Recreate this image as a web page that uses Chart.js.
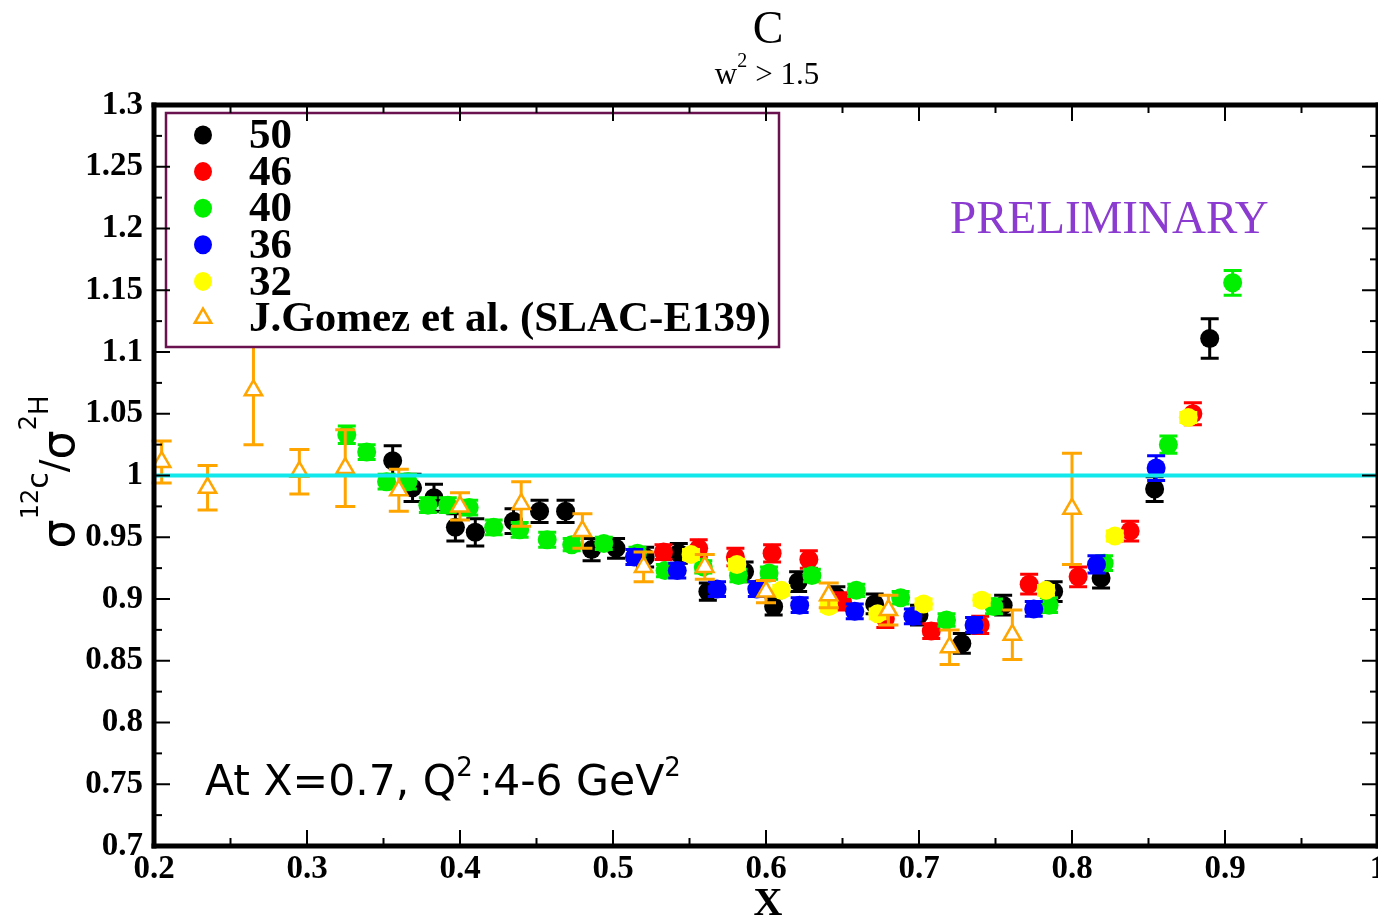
<!DOCTYPE html>
<html>
<head>
<meta charset="utf-8">
<title>C / H cross section ratio</title>
<script src="https://cdn.jsdelivr.net/npm/chart.js@4.4.1/dist/chart.umd.min.js"></script>
<style>
  html, body { margin: 0; padding: 0; background: #ffffff; overflow: hidden; }
  canvas { display: block; }
</style>
</head>
<body>
<canvas id="ratioChart" width="1378" height="919"></canvas>
<script>
// angle settings (deg) shown in the legend
const seriesLabels = ["50", "46", "40", "36", "32", "J.Gomez et al. (SLAC-E139)"];

const x50 = [0.356, 0.369, 0.383, 0.397, 0.410, 0.435, 0.452, 0.469, 0.486, 0.502, 0.521, 0.543, 0.562, 0.586, 0.605, 0.621, 0.646, 0.671, 0.700, 0.728, 0.755, 0.788, 0.819, 0.854, 0.890];
const y50 = [1.012, 0.990, 0.982, 0.958, 0.954, 0.963, 0.971, 0.971, 0.940, 0.941, 0.934, 0.937, 0.906, 0.922, 0.894, 0.914, 0.902, 0.896, 0.887, 0.864, 0.895, 0.906, 0.917, 0.989, 1.111];
const e50 = [0.012, 0.011, 0.011, 0.011, 0.011, 0.010, 0.009, 0.009, 0.009, 0.008, 0.008, 0.008, 0.007, 0.008, 0.007, 0.008, 0.008, 0.008, 0.008, 0.008, 0.008, 0.008, 0.008, 0.010, 0.016];

const x46 = [0.533, 0.556, 0.580, 0.604, 0.628, 0.650, 0.678, 0.708, 0.740, 0.772, 0.804, 0.838, 0.879];
const y46 = [0.938, 0.941, 0.934, 0.937, 0.932, 0.898, 0.884, 0.874, 0.879, 0.912, 0.918, 0.955, 1.050];
const e46 = [0.006, 0.007, 0.007, 0.007, 0.007, 0.007, 0.007, 0.006, 0.007, 0.008, 0.008, 0.008, 0.009];

const x40 = [0.326, 0.339, 0.352, 0.366, 0.379, 0.392, 0.406, 0.422, 0.439, 0.457, 0.473, 0.494, 0.516, 0.534, 0.559, 0.582, 0.602, 0.630, 0.659, 0.688, 0.718, 0.749, 0.785, 0.821, 0.863, 0.905];
const y40 = [1.033, 1.019, 0.995, 0.995, 0.976, 0.976, 0.974, 0.958, 0.956, 0.948, 0.944, 0.945, 0.937, 0.923, 0.926, 0.919, 0.921, 0.919, 0.907, 0.901, 0.883, 0.894, 0.895, 0.929, 1.025, 1.156];
const e40 = [0.007, 0.006, 0.006, 0.006, 0.006, 0.006, 0.006, 0.006, 0.006, 0.006, 0.005, 0.005, 0.005, 0.005, 0.005, 0.005, 0.005, 0.005, 0.005, 0.005, 0.005, 0.006, 0.006, 0.006, 0.007, 0.010];

const x36 = [0.514, 0.542, 0.568, 0.594, 0.622, 0.658, 0.696, 0.736, 0.775, 0.816, 0.855];
const y36 = [0.934, 0.923, 0.908, 0.908, 0.895, 0.890, 0.886, 0.879, 0.892, 0.928, 1.006];
const e36 = [0.006, 0.006, 0.006, 0.006, 0.006, 0.006, 0.006, 0.006, 0.006, 0.007, 0.010];

const x32 = [0.551, 0.581, 0.610, 0.641, 0.673, 0.703, 0.741, 0.783, 0.828, 0.876];
const y32 = [0.936, 0.928, 0.907, 0.894, 0.888, 0.896, 0.899, 0.907, 0.951, 1.047];
const e32 = [0.004, 0.004, 0.004, 0.004, 0.004, 0.004, 0.004, 0.004, 0.004, 0.004];

const xE139 = [0.205, 0.235, 0.265, 0.295, 0.325, 0.360, 0.400, 0.440, 0.480, 0.520, 0.560, 0.600, 0.641, 0.680, 0.720, 0.761, 0.800];
const yE139 = [1.011, 0.990, 1.069, 1.003, 1.006, 0.988, 0.975, 0.977, 0.955, 0.926, 0.926, 0.906, 0.903, 0.891, 0.861, 0.871, 0.973];
const eE139 = [0.017, 0.018, 0.044, 0.018, 0.031, 0.017, 0.011, 0.018, 0.014, 0.012, 0.010, 0.009, 0.010, 0.012, 0.014, 0.020, 0.045];

const unityRatio = 1;
const xRange = [0.2, 1.0];
const yRange = [0.7, 1.3];

const colors = {
  s50: "#000000",
  s46: "#ff0000",
  s40: "#00f000",
  s36: "#0000ff",
  s32: "#ffff00",
  slac: "#ffa500",
  unity: "#10e8ec",
  legendBorder: "#6a1250",
  preliminary: "#8b3bd0",
};

const serif = "'Liberation Serif', 'Times New Roman', serif";
const sans = "'DejaVu Sans', Verdana, sans-serif";

const toPoints = (xs, ys) => xs.map((x, i) => ({ x, y: ys[i] }));

const isMultiple = (value, step) => {
  const r = value / step;
  return Math.abs(r - Math.round(r)) < 1e-6;
};

function makeSeries(label, xs, ys, errs, color, order) {
  return {
    label,
    data: toPoints(xs, ys),
    errors: errs,
    capHalf: 9,
    pointStyle: "circle",
    pointRadius: 9.5,
    backgroundColor: color,
    borderColor: color,
    borderWidth: 0,
    order,
  };
}

// vertical error bars, painted just before the markers of the same dataset
const errorBars = {
  id: "errorBars",
  beforeDatasetDraw(chart, args) {
    const ds = chart.data.datasets[args.index];
    if (!ds.errors) return;
    const { ctx, scales } = chart;
    ctx.save();
    ctx.strokeStyle = ds.borderColor;
    ctx.lineWidth = 3;
    ds.data.forEach((p, i) => {
      const err = ds.errors[i];
      const px = scales.x.getPixelForValue(p.x);
      const top = scales.y.getPixelForValue(p.y + err);
      const bottom = scales.y.getPixelForValue(p.y - err);
      ctx.beginPath();
      ctx.moveTo(px, top);
      ctx.lineTo(px, bottom);
      ctx.moveTo(px - ds.capHalf, top);
      ctx.lineTo(px + ds.capHalf, top);
      ctx.moveTo(px - ds.capHalf, bottom);
      ctx.lineTo(px + ds.capHalf, bottom);
      ctx.stroke();
    });
    ctx.restore();
  },
};

// heavy frame with inward ticks on all four sides
const frameAndTicks = {
  id: "frameAndTicks",
  afterDraw(chart) {
    const { ctx, chartArea: a, scales } = chart;
    const seg = (x1, y1, x2, y2) => {
      ctx.beginPath();
      ctx.moveTo(x1, y1);
      ctx.lineTo(x2, y2);
      ctx.stroke();
    };
    ctx.save();
    ctx.strokeStyle = "#000000";
    ctx.lineWidth = 2;
    scales.x.ticks.forEach((t) => {
      const px = scales.x.getPixelForValue(t.value);
      const len = isMultiple(t.value, 0.1) ? 16 : 8;
      seg(px, a.bottom, px, a.bottom - len);
      seg(px, a.top, px, a.top + len);
    });
    scales.y.ticks.forEach((t) => {
      const py = scales.y.getPixelForValue(t.value);
      const len = isMultiple(t.value, 0.05) ? 16 : 8;
      seg(a.left, py, a.left + len, py);
      seg(a.right, py, a.right - len, py);
    });
    ctx.lineWidth = 5;
    ctx.lineCap = "square";
    seg(a.left, a.top, a.right, a.top);
    seg(a.left, a.bottom, a.right, a.bottom);
    seg(a.left, a.top, a.left, a.bottom);
    seg(a.right, a.top, a.right, a.bottom);
    ctx.restore();
  },
};

// draws a run of text pieces, each with its own size and raise
function drawRun(ctx, pieces, x, y) {
  let cx = x;
  pieces.forEach((p) => {
    ctx.font = p.font;
    ctx.fillText(p.text, cx, y - (p.raise || 0));
    cx += ctx.measureText(p.text).width + (p.gap || 0);
  });
  return cx;
}

function runWidth(ctx, pieces) {
  let w = 0;
  pieces.forEach((p) => {
    ctx.font = p.font;
    w += ctx.measureText(p.text).width + (p.gap || 0);
  });
  return w;
}

const annotations = {
  id: "annotations",
  afterDraw(chart) {
    const { ctx } = chart;
    ctx.save();
    ctx.fillStyle = "#000000";
    ctx.textBaseline = "alphabetic";
    ctx.textAlign = "center";
    ctx.font = `46px ${serif}`;
    ctx.fillText("C", 768, 43);

    ctx.textAlign = "left";
    const sub = [
      { text: "w", font: `31px ${serif}` },
      { text: "2", font: `20px ${serif}`, raise: 17, gap: 8 },
      { text: "> 1.5", font: `31px ${serif}` },
    ];
    drawRun(ctx, sub, 767 - runWidth(ctx, sub) / 2, 84);

    ctx.font = `bold 40px ${serif}`;
    ctx.textAlign = "center";
    ctx.fillText("X", 768, 915);

    ctx.textAlign = "left";
    ctx.fillStyle = colors.preliminary;
    ctx.font = `47px ${serif}`;
    ctx.fillText("PRELIMINARY", 950, 233);

    ctx.fillStyle = "#000000";
    drawRun(ctx, [
      { text: "At X=0.7, Q", font: `42.5px ${sans}` },
      { text: "2", font: `26px ${sans}`, raise: 19, gap: 6 },
      { text: ":4-6 GeV", font: `42.5px ${sans}` },
      { text: "2", font: `26px ${sans}`, raise: 19 },
    ], 205, 795);

    // rotated ratio label on the y axis
    const ylab = [
      { text: "σ", font: `46px ${sans}` },
      { text: "12", font: `24px ${sans}`, raise: 36 },
      { text: "c", font: `30px ${sans}`, raise: 26 },
      { text: "/", font: `38px ${sans}`, raise: 8 },
      { text: "σ", font: `46px ${sans}` },
      { text: "2", font: `24px ${sans}`, raise: 38 },
      { text: "H", font: `26px ${sans}`, raise: 26 },
    ];
    ctx.translate(74, 472);
    ctx.rotate(-Math.PI / 2);
    drawRun(ctx, ylab, -runWidth(ctx, ylab) / 2, 0);
    ctx.restore();
  },
};

// boxed legend inside the plot, painted over the data
const legendBox = {
  id: "legendBox",
  afterDatasetsDraw(chart) {
    const { ctx } = chart;
    const entries = chart.data.datasets.filter((d) => d.inLegend);
    ctx.save();
    ctx.fillStyle = "#ffffff";
    ctx.fillRect(166, 113, 613, 234);
    ctx.strokeStyle = colors.legendBorder;
    ctx.lineWidth = 2.5;
    ctx.strokeRect(166, 113, 613, 234);
    entries.forEach((d, i) => {
      const cy = 135 + i * 36.6;
      ctx.fillStyle = d.backgroundColor;
      ctx.strokeStyle = d.borderColor;
      ctx.lineWidth = d.borderWidth;
      ctx.beginPath();
      if (d.pointStyle === "triangle") {
        const r = 9.5;
        ctx.moveTo(203, cy - r);
        ctx.lineTo(203 + r * 0.866, cy + r * 0.5);
        ctx.lineTo(203 - r * 0.866, cy + r * 0.5);
        ctx.closePath();
        ctx.fill();
        ctx.stroke();
      } else {
        ctx.ellipse(203, cy, 9, 9.5, 0, 0, Math.PI * 2);
        ctx.fill();
      }
      ctx.fillStyle = "#000000";
      ctx.font = `bold 43px ${serif}`;
      ctx.textBaseline = "middle";
      ctx.fillText(d.label, 249, cy + 2);
    });
    ctx.restore();
  },
};

const datasets = [
  makeSeries(seriesLabels[0], x50, y50, e50, colors.s50, 6),
  makeSeries(seriesLabels[1], x46, y46, e46, colors.s46, 5),
  makeSeries(seriesLabels[2], x40, y40, e40, colors.s40, 4),
  makeSeries(seriesLabels[3], x36, y36, e36, colors.s36, 3),
  makeSeries(seriesLabels[4], x32, y32, e32, colors.s32, 2),
  {
    label: seriesLabels[5],
    data: toPoints(xE139, yE139),
    errors: eE139,
    capHalf: 10,
    pointStyle: "triangle",
    pointRadius: 10,
    backgroundColor: "#ffffff",
    borderColor: colors.slac,
    borderWidth: 2.5,
    order: 1,
  },
];
datasets.forEach((d) => { d.inLegend = true; });

datasets.push({
  label: "unity",
  data: toPoints(xRange, [unityRatio, unityRatio]),
  showLine: true,
  borderColor: colors.unity,
  borderWidth: 4,
  pointRadius: 0,
  order: 0,
});

new Chart(document.getElementById("ratioChart"), {
  type: "scatter",
  data: { datasets },
  options: {
    responsive: false,
    animation: false,
    events: [],
    layout: {
      autoPadding: false,
      padding: { top: 105, left: 0, right: 0, bottom: 0 },
    },
    plugins: {
      legend: { display: false },
      tooltip: { enabled: false },
    },
    scales: {
      x: {
        type: "linear",
        min: xRange[0],
        max: xRange[1],
        grid: { display: false },
        border: { display: false },
        afterFit: (scale) => {
          scale.height = 73;
          scale.paddingLeft = 0;
          scale.paddingRight = 0;
        },
        ticks: {
          stepSize: 0.05,
          autoSkip: false,
          maxRotation: 0,
          padding: -4,
          color: "#000000",
          font: { family: serif, size: 33, weight: "bold" },
          callback: (v) => (isMultiple(v, 0.1) ? String(Number(v.toFixed(2))) : ""),
        },
      },
      y: {
        type: "linear",
        min: yRange[0],
        max: yRange[1],
        grid: { display: false },
        border: { display: false },
        afterFit: (scale) => {
          scale.width = 154;
          scale.paddingTop = 0;
          scale.paddingBottom = 0;
        },
        ticks: {
          stepSize: 0.025,
          autoSkip: false,
          padding: 3,
          color: "#000000",
          font: { family: serif, size: 33, weight: "bold" },
          callback: (v) => (isMultiple(v, 0.05) ? String(Number(v.toFixed(3))) : ""),
        },
      },
    },
  },
  plugins: [errorBars, legendBox, frameAndTicks, annotations],
});
</script>
</body>
</html>
